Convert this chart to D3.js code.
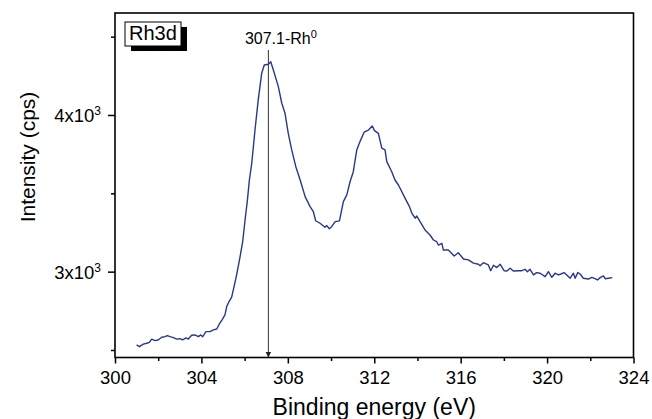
<!DOCTYPE html>
<html>
<head>
<meta charset="utf-8">
<script src="https://cdn.jsdelivr.net/npm/d3@7"></script>
<style>
body { margin: 0; background: #fff; }
svg { display: block; font-family: "Liberation Sans", Arial, sans-serif; }
</style>
</head>
<body>
<div id="wrapper"></div>
<script>
// Rh3d spectrum
const energy = [301.00,301.13,301.31,301.47,301.59,301.70,301.85,302.00,302.16,302.32,302.42,302.55,302.70,302.86,303.01,303.13,303.29,303.39,303.55,303.70,303.86,303.97,304.06,304.21,304.40,304.55,304.71,304.83,304.97,305.09,305.17,305.28,305.40,305.51,305.63,305.79,305.91,306.02,306.13,306.22,306.33,306.48,306.63,306.79,306.91,307.10,307.21,307.33,307.56,307.72,307.87,308.02,308.18,308.37,308.57,308.80,309.03,309.18,309.29,309.49,309.72,309.80,309.92,310.03,310.19,310.39,310.57,310.73,310.88,311.03,311.19,311.34,311.53,311.73,311.91,312.01,312.19,312.35,312.50,312.58,312.81,312.96,313.12,313.43,313.63,313.74,313.89,313.97,314.12,314.35,314.58,314.74,314.89,314.97,315.13,315.20,315.43,315.70,315.89,316.13,316.36,316.59,316.82,316.90,317.05,317.28,317.39,317.52,317.67,317.83,318.01,318.14,318.29,318.44,318.67,318.83,318.98,319.09,319.21,319.37,319.52,319.68,319.91,320.06,320.22,320.37,320.52,320.64,320.79,320.91,321.07,321.22,321.30,321.42,321.53,321.68,321.91,322.07,322.22,322.33,322.46,322.61,322.69,322.84,323.02];
const intensity = [2532,2521,2537,2543,2549,2569,2560,2564,2581,2585,2592,2585,2579,2569,2572,2564,2577,2570,2594,2596,2585,2596,2585,2617,2617,2628,2634,2666,2696,2724,2777,2809,2837,2904,2979,3096,3191,3330,3458,3585,3692,3904,4096,4266,4319,4324,4340,4287,4181,4075,4011,3883,3777,3670,3585,3479,3415,3383,3325,3309,3283,3294,3274,3287,3319,3324,3447,3490,3574,3638,3777,3830,3890,3904,3930,3900,3883,3788,3777,3702,3638,3585,3553,3468,3415,3373,3341,3355,3319,3266,3234,3202,3191,3170,3181,3138,3138,3100,3121,3081,3075,3054,3047,3038,3057,3043,3006,3041,3026,3047,3006,3004,3022,3004,3006,3006,3015,3000,3015,2979,2994,2990,2968,3000,2964,2990,2979,2985,2994,2979,2958,2990,2958,2994,2985,2958,2953,2964,2955,2947,2962,2973,2955,2958,2962];

const xMajor = [300, 304, 308, 312, 316, 320, 324];
const xMinor = [302, 306, 310, 314, 318, 322];
const yMajor = [3000, 4000];
const yMinor = [2500, 3500, 4500];

const peakPos = 307.1;
const peakTop = 4415;
const peakText = "307.1-Rh";
const peakSup = "0";
const legendText = "Rh3d";

const width = 652;
const height = 419;
const margin = { top: 13, right: 18.5, bottom: 61.5, left: 115 };
const boundedWidth = width - margin.left - margin.right;
const boundedHeight = height - margin.top - margin.bottom;

const svg = d3.select("#wrapper")
    .append("svg")
    .attr("width", width)
    .attr("height", height);

const bounds = svg.append("g")
    .attr("transform", `translate(${margin.left},${margin.top})`);

const xScale = d3.scaleLinear()
    .domain([300, 324])
    .range([0, boundedWidth]);

const yScale = d3.scaleLinear()
    .domain([2452, 4651])
    .range([boundedHeight, 0]);

// minor ticks
bounds.append("g")
    .attr("transform", `translate(0,${boundedHeight})`)
    .call(d3.axisBottom(xScale).tickValues(xMinor).tickSize(3.5).tickFormat(""))
    .call(g => g.select(".domain").remove());
bounds.append("g")
    .call(d3.axisLeft(yScale).tickValues(yMinor).tickSize(4).tickFormat(""))
    .call(g => g.select(".domain").remove());

// major ticks
const xAxis = bounds.append("g")
    .attr("transform", `translate(0,${boundedHeight})`)
    .call(d3.axisBottom(xScale).tickValues(xMajor).tickSize(6).tickPadding(7))
    .call(g => g.select(".domain").remove());
xAxis.selectAll("text")
    .attr("font-size", "18.5px")
    .attr("font-family", null)
    .attr("fill", "#000");

const yAxis = bounds.append("g")
    .call(d3.axisLeft(yScale).tickValues(yMajor).tickSize(7).tickPadding(7).tickFormat(""))
    .call(g => g.select(".domain").remove());
yAxis.selectAll(".tick text")
    .attr("font-size", "18.5px")
    .attr("font-family", null)
    .attr("fill", "#000")
    .attr("dy", "0.36em")
    .each(function (d) {
        const t = d3.select(this);
        t.append("tspan").text(d / 1000 + "x10");
        t.append("tspan").attr("dy", "-7").attr("font-size", "12px").text("3");
    });

svg.selectAll(".tick line").attr("stroke", "#000").attr("stroke-width", 1.5);

// spectrum
const line = d3.line()
    .x((d, i) => xScale(energy[i]))
    .y(d => yScale(d));

bounds.append("path")
    .datum(intensity)
    .attr("d", line)
    .attr("fill", "none")
    .attr("stroke", "#27388c")
    .attr("stroke-width", 1.4)
    .attr("stroke-linejoin", "round");

// peak marker
svg.append("defs").append("marker")
    .attr("id", "arrow")
    .attr("viewBox", "0 0 10 10")
    .attr("refX", 10)
    .attr("refY", 5)
    .attr("markerWidth", 6)
    .attr("markerHeight", 7)
    .attr("markerUnits", "userSpaceOnUse")
    .attr("orient", "auto")
    .append("path")
    .attr("d", "M0,0 L10,5 L0,10 z")
    .attr("fill", "#222");

bounds.append("line")
    .attr("x1", xScale(peakPos))
    .attr("x2", xScale(peakPos))
    .attr("y1", yScale(peakTop))
    .attr("y2", boundedHeight)
    .attr("stroke", "#333")
    .attr("stroke-width", 1)
    .attr("marker-end", "url(#arrow)");

const peakLabel = bounds.append("text")
    .attr("x", xScale(peakPos) - 23.5)
    .attr("y", 31)
    .attr("font-size", "16px")
    .attr("fill", "#000");
peakLabel.append("tspan").text(peakText);
peakLabel.append("tspan").attr("dy", "-6").attr("font-size", "11px").text(peakSup);

// frame
bounds.append("rect")
    .attr("width", boundedWidth)
    .attr("height", boundedHeight)
    .attr("fill", "none")
    .attr("stroke", "#000")
    .attr("stroke-width", 1.6);

// legend box with shadow
bounds.append("rect")
    .attr("x", 16).attr("y", 14)
    .attr("width", 56).attr("height", 24)
    .attr("fill", "#000");
bounds.append("rect")
    .attr("x", 10).attr("y", 9)
    .attr("width", 56).attr("height", 24)
    .attr("fill", "#fff")
    .attr("stroke", "#000")
    .attr("stroke-width", 1);
bounds.append("text")
    .attr("x", 14).attr("y", 27)
    .attr("font-size", "20px")
    .attr("fill", "#000")
    .text(legendText);

// axis titles
svg.append("text")
    .attr("x", margin.left + boundedWidth / 2 - 0)
    .attr("y", 415)
    .attr("text-anchor", "middle")
    .attr("font-size", "23px")
    .attr("fill", "#000")
    .text("Binding energy (eV)");

svg.append("text")
    .attr("transform", "translate(35,157) rotate(-90)")
    .attr("text-anchor", "middle")
    .attr("font-size", "21px")
    .attr("fill", "#000")
    .text("Intensity (cps)");
</script>
</body>
</html>
